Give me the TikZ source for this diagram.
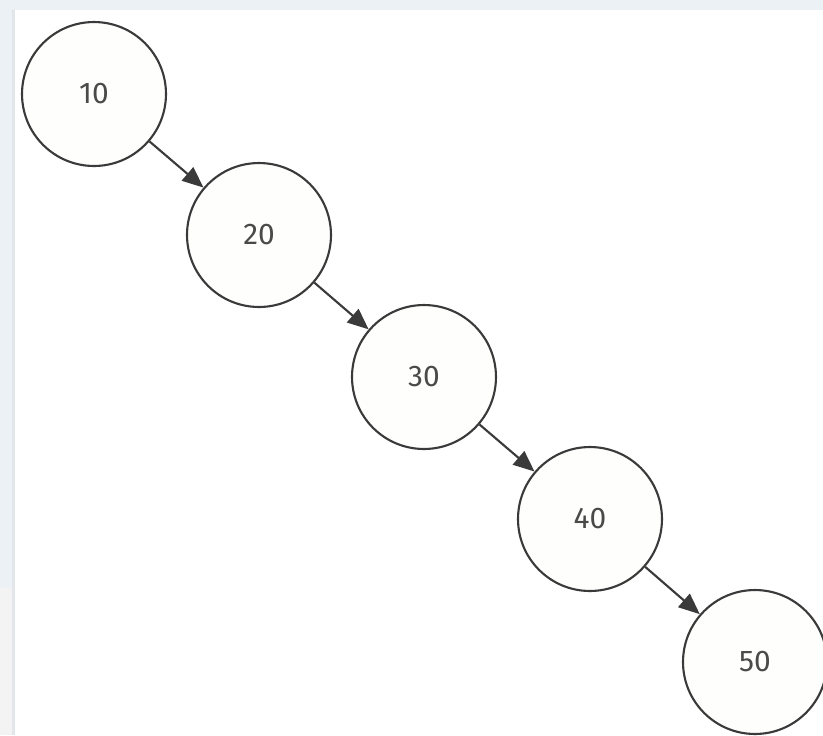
\documentclass[tikz,border=0pt]{standalone}
\usepackage{fontspec}
\setmainfont{Fira Sans}
\usepackage{tikz}
\usetikzlibrary{arrows.meta}
\definecolor{TreeLine}{HTML}{3A3A3A}
\definecolor{TreeText}{HTML}{4A4A4A}
\definecolor{TreeFill}{HTML}{FEFEFD}
\definecolor{PageBlue}{HTML}{ECF1F5}
\definecolor{PageGray}{HTML}{F3F3F3}
\definecolor{PageEdge}{HTML}{E2E6EA}
\tikzset{
    % Tree node style
    treenode/.style={
        circle,
        draw=TreeLine,
        fill=TreeFill,
        line width=1.2pt,
        minimum size=2.88cm,
        inner sep=0pt,
        text=TreeText,
        font=\fontsize{17}{20}\selectfont
    },
    % Arrow style
    myarrow/.style={
        -{Triangle[length=12pt,width=10pt]},
        line width=1.2pt,
        draw=TreeLine
    }
}
\begin{document}
\begin{tikzpicture}[x=0.02cm,y=-0.02cm]
    \useasboundingbox (0,0) rectangle (823,735);
    % page background
    \fill[PageBlue] (0,0) rectangle (823,588);
    \fill[PageGray] (0,588) rectangle (823,735);
    \fill[PageEdge] (12,10) rectangle (15,735);
    \fill[white] (15,10) rectangle (823,735);

    \node[treenode] (n10) at (94,94) {10};
    \node[treenode] (n20) at (259,235) {20};
    \node[treenode] (n30) at (424,377) {30};
    \node[treenode] (n40) at (590,519) {40};
    \node[treenode] (n50) at (755,662) {50};

    \draw[myarrow] (n10) -- (n20);
    \draw[myarrow] (n20) -- (n30);
    \draw[myarrow] (n30) -- (n40);
    \draw[myarrow] (n40) -- (n50);
\end{tikzpicture}
\end{document}
